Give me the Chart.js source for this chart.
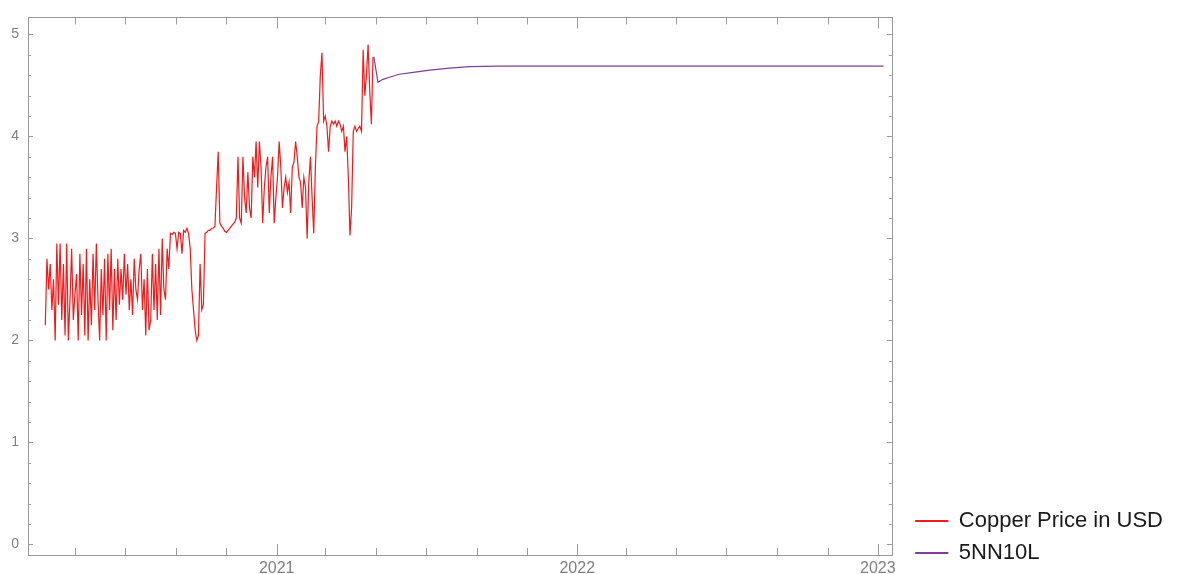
<!DOCTYPE html>
<html>
<head>
<meta charset="utf-8">
<script src="https://cdn.jsdelivr.net/npm/chart.js@4.4.1/dist/chart.umd.min.js"></script>
<style>
  html, body { margin: 0; padding: 0; background: #fff; }
  #wrap { width: 1180px; height: 574px; position: relative; }
</style>
</head>
<body>
<div id="wrap"><canvas id="copperChart"></canvas></div>
<script>
// copper price, one value every 2 days starting 2020-03-26
const redStart = '2020-03-26';
const redStepDays = 2;
const redValues = [
  2.15, 2.8, 2.5, 2.75, 2.3, 2.6, 2.0, 2.95, 2.35, 2.95,
  2.2, 2.75, 2.05, 2.95, 2.0, 2.4, 2.9, 2.2, 2.45, 2.65,
  2.0, 2.85, 2.25, 2.75, 2.05, 2.9, 2.0, 2.6, 2.15, 2.85,
  2.3, 2.95, 2.4, 2.0, 2.7, 2.25, 2.8, 2.0, 2.85, 2.3,
  2.9, 2.1, 2.7, 2.2, 2.8, 2.35, 2.7, 2.4, 2.85, 2.45,
  2.75, 2.3, 2.6, 2.25, 2.8, 2.5, 2.4, 2.7, 2.85, 2.3,
  2.6, 2.05, 2.7, 2.1, 2.2, 2.85, 2.3, 2.75, 2.2, 2.9,
  2.25, 3.0, 2.5, 2.4, 2.9, 2.7, 3.05, 3.04, 3.06, 3.05,
  2.9, 3.06, 3.05, 2.85, 3.08, 3.06, 3.1, 3.05, 2.9, 2.5,
  2.3, 2.1, 2.0, 2.05, 2.75, 2.3, 2.35, 3.05, 3.06, 3.08,
  3.08, 3.1, 3.1, 3.12, 3.5, 3.85, 3.15, 3.12, 3.1, 3.07,
  3.06, 3.08, 3.1, 3.12, 3.14, 3.16, 3.2, 3.8, 3.2, 3.15,
  3.8, 3.4, 3.25, 3.65, 3.3, 3.2, 3.8, 3.6, 3.95, 3.5,
  3.95, 3.7, 3.15, 3.5, 3.7, 3.8, 3.25, 3.6, 3.8, 3.15,
  3.4, 3.6, 3.95, 3.7, 3.3, 3.5, 3.6, 3.45, 3.55, 3.25,
  3.7, 3.75, 3.95, 3.8, 3.6, 3.55, 3.3, 3.6, 3.5, 3.0,
  3.55, 3.8, 3.4, 3.05, 3.7, 4.1, 4.15, 4.6, 4.82, 4.15,
  4.2, 4.1, 3.85, 4.1, 4.15, 4.12, 4.15, 4.1, 4.15, 4.12,
  4.05, 4.1, 3.85, 4.0, 3.6, 3.03, 3.3, 4.05, 4.1, 4.05,
  4.08, 4.1, 4.05, 4.85, 4.4, 4.6, 4.9, 4.45, 4.12, 4.78
];

// 5NN10L forecast
const purpleDates = ['2021-04-29', '2021-05-04', '2021-05-10', '2021-05-18', '2021-05-30',
  '2021-06-18', '2021-07-06', '2021-07-30', '2021-08-23', '2021-09-29', '2023-01-08'];
const purpleValues = [4.78, 4.53, 4.56, 4.58, 4.61, 4.63, 4.65, 4.67, 4.685, 4.69, 4.69];

// axes
const xStart = '2020-03-05';
const xEnd = '2023-01-18';
const xTickDates = ['2020-05-01', '2020-07-01', '2020-09-01', '2020-11-01',
  '2021-01-01', '2021-03-01', '2021-05-01', '2021-07-01', '2021-09-01', '2021-11-01',
  '2022-01-01', '2022-03-01', '2022-05-01', '2022-07-01', '2022-09-01', '2022-11-01',
  '2023-01-01'];
const xLabelDates = ['2021-01-01', '2022-01-01', '2023-01-01'];
const yTickLabels = [0, 1, 2, 3, 4, 5];
const yMin = -0.103, yMax = 5.167;

const DAY = 86400000;
const toTime = s => Date.parse(s + 'T00:00:00Z');

const redData = redValues.map((v, i) => ({ x: toTime(redStart) + i * redStepDays * DAY, y: v }));
const purpleData = purpleValues.map((v, i) => ({ x: toTime(purpleDates[i]), y: v }));

const frameColor = '#9a9a9a';

// Mathematica-style frame with inward ticks on all four sides
const frameTicks = {
  id: 'frameTicks',
  afterDraw(chart) {
    const { ctx, chartArea: a, scales: { x, y } } = chart;
    ctx.save();
    ctx.strokeStyle = frameColor;
    ctx.lineWidth = 1;
    ctx.strokeRect(Math.round(a.left) + 0.5, Math.round(a.top) + 0.5,
      Math.round(a.right - a.left), Math.round(a.bottom - a.top));
    ctx.beginPath();
    xTickDates.forEach(d => {
      const px = Math.round(x.getPixelForValue(toTime(d))) + 0.5;
      const len = d.endsWith('01-01') ? 11 : 7;
      ctx.moveTo(px, a.bottom); ctx.lineTo(px, a.bottom - len);
      ctx.moveTo(px, a.top); ctx.lineTo(px, a.top + len);
    });
    for (let k = 0; k <= 25; k++) {
      const v = k / 5;
      const py = Math.round(y.getPixelForValue(v)) + 0.5;
      const len = k % 5 === 0 ? 5 : 3;
      ctx.moveTo(a.left, py); ctx.lineTo(a.left + len, py);
      ctx.moveTo(a.right, py); ctx.lineTo(a.right - len, py);
    }
    ctx.stroke();
    ctx.restore();
  }
};

Chart.defaults.font.family = "'Liberation Sans', Arial, sans-serif";

const ctx = document.getElementById('copperChart').getContext('2d');

new Chart(ctx, {
  type: 'line',
  data: {
    datasets: [{
      label: 'Copper Price in USD',
      data: redData,
      borderColor: '#ee1c1c',
      backgroundColor: '#ee1c1c',
      borderWidth: 1.2,
      pointRadius: 0,
      tension: 0
    }, {
      label: '5NN10L',
      data: purpleData,
      borderColor: '#7d3f98',
      backgroundColor: '#7d3f98',
      borderWidth: 1.2,
      pointRadius: 0,
      tension: 0
    }]
  },
  options: {
    responsive: true,
    maintainAspectRatio: false,
    animation: false,
    layout: {
      padding: { top: 16, left: 0, right: 7, bottom: 0 }
    },
    scales: {
      x: {
        type: 'linear',
        min: toTime(xStart),
        max: toTime(xEnd),
        grid: { display: false, drawTicks: false },
        border: { display: false },
        afterBuildTicks: s => { s.ticks = xLabelDates.map(d => ({ value: toTime(d) })); },
        afterFit: s => { s.height = 19; },
        ticks: {
          padding: 4,
          color: '#808080',
          font: { size: 16 },
          maxRotation: 0,
          autoSkip: false,
          callback: v => new Date(v).getUTCFullYear()
        }
      },
      y: {
        min: yMin,
        max: yMax,
        grid: { display: false, drawTicks: false },
        border: { display: false },
        afterBuildTicks: s => { s.ticks = yTickLabels.map(v => ({ value: v })); },
        afterFit: s => { s.width = 28; },
        ticks: {
          padding: 9,
          color: '#808080',
          font: { size: 14 }
        }
      },
      gap: {
        type: 'linear',
        position: 'right',
        grid: { display: false, drawTicks: false },
        border: { display: false },
        ticks: { display: false },
        afterFit: s => { s.width = 14; }
      }
    },
    plugins: {
      legend: {
        position: 'right',
        align: 'end',
        maxWidth: 320,
        labels: {
          boxWidth: 32,
          boxHeight: 1,
          padding: 10,
          color: '#1a1a1a',
          font: { size: 22 }
        }
      },
      tooltip: { enabled: false }
    }
  },
  plugins: [frameTicks]
});
</script>
</body>
</html>
